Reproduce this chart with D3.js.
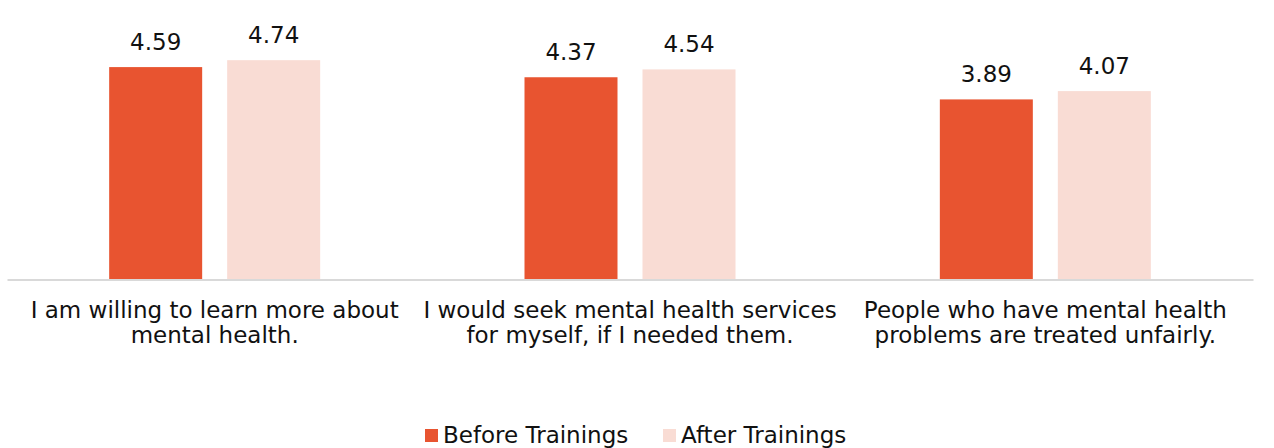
<!DOCTYPE html>
<html>
<head>
<meta charset="utf-8">
<script src="https://cdn.jsdelivr.net/npm/d3@7"></script>
<style>
  html, body { margin: 0; padding: 0; background: #fff; }
  svg { display: block; font-family: "DejaVu Sans", Verdana, sans-serif; }
</style>
</head>
<body>
<svg id="chart" width="1274" height="448"></svg>
<script>
// Survey statements and mean scores before / after trainings
const categories = [
  ["I am willing to learn more about", "mental health."],
  ["I would seek mental health services", "for myself, if I needed them."],
  ["People who have mental health", "problems are treated unfairly."]
];
const seriesNames = ["Before Trainings", "After Trainings"];
const beforeValues = [4.59, 4.37, 3.89];
const afterValues = [4.74, 4.54, 4.07];
const seriesColors = ["#e85430", "#f9dcd4"];

const svg = d3.select("#chart");
const plot = { left: 7, right: 1253, top: 2, bottom: 279 };

const x0 = d3.scaleBand()
  .domain(d3.range(categories.length))
  .range([plot.left, plot.right])
  .paddingInner(0).paddingOuter(0);

const barW = 93, barGap = 25;
const x1 = d3.scaleOrdinal()
  .domain([0, 1])
  .range([-(barGap / 2 + barW), barGap / 2]);

const y = d3.scaleLinear().domain([0, 6]).range([plot.bottom, plot.top]);

const rows = categories.map((c, i) => ({ i, vals: [beforeValues[i], afterValues[i]] }));

const groups = svg.append("g").selectAll("g")
  .data(rows).join("g")
  .attr("transform", d => `translate(${x0(d.i) + x0.bandwidth() / 2},0)`);

groups.selectAll("rect")
  .data(d => d.vals.map((v, s) => ({ v, s })))
  .join("rect")
  .attr("x", d => x1(d.s))
  .attr("width", barW)
  .attr("y", d => y(d.v))
  .attr("height", d => y(0) - y(d.v))
  .attr("fill", d => seriesColors[d.s]);

groups.selectAll("text.val")
  .data(d => d.vals.map((v, s) => ({ v, s })))
  .join("text")
  .attr("class", "val")
  .attr("x", d => x1(d.s) + barW / 2)
  .attr("y", d => y(d.v) - 17)
  .attr("text-anchor", "middle")
  .attr("font-size", 23)
  .attr("fill", "#111")
  .text(d => d.v.toFixed(2));

// category axis (baseline only, no ticks)
const xAxis = d3.axisBottom(x0).tickSize(0).tickFormat("");
const axisG = svg.append("g").attr("transform", `translate(0,${plot.bottom + 0.5})`).call(xAxis);
axisG.select(".domain").attr("stroke", "#d9d9d9").attr("stroke-width", 2);

groups.append("text")
  .attr("text-anchor", "middle")
  .attr("font-size", 23)
  .attr("fill", "#111")
  .selectAll("tspan")
  .data(d => categories[d.i])
  .join("tspan")
  .attr("x", 0)
  .attr("y", (d, k) => 318 + k * 25)
  .text(d => d);

// legend
const legendItems = [{ x: 425, s: 0 }, { x: 663, s: 1 }];
const lg = svg.append("g").selectAll("g").data(legendItems).join("g")
  .attr("transform", d => `translate(${d.x},429)`);
lg.append("rect").attr("width", 13).attr("height", 13).attr("fill", d => seriesColors[d.s]);
lg.append("text").attr("x", 18).attr("y", 14)
  .attr("font-size", 23).attr("fill", "#111")
  .text(d => seriesNames[d.s]);
</script>
</body>
</html>
